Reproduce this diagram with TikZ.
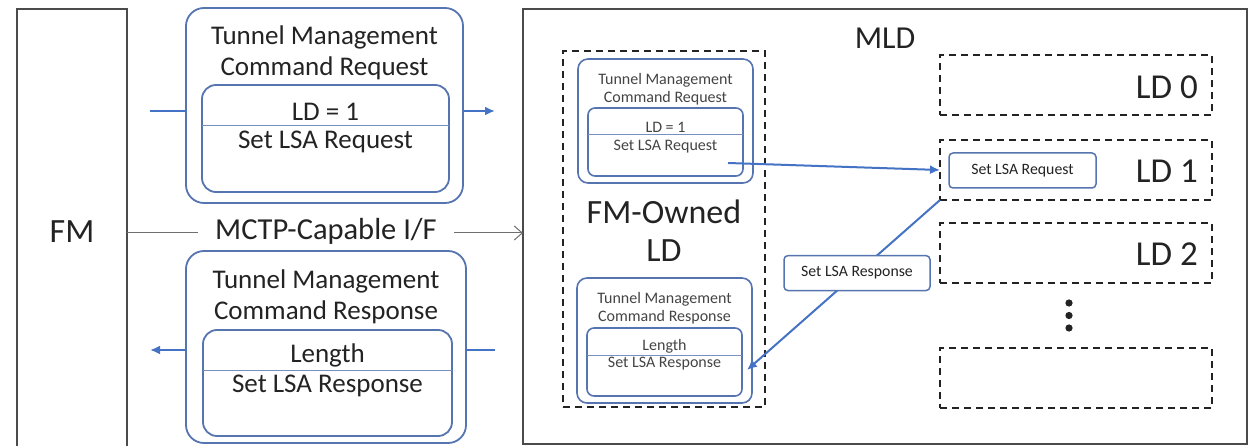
\documentclass[tikz,border=0pt]{standalone}
\usepackage{fontspec}
\setmainfont{Carlito}
\usetikzlibrary{arrows.meta,positioning,calc}
\definecolor{boxblue}{RGB}{86,116,176}
\definecolor{flowblue}{RGB}{68,114,196}
\definecolor{ink}{RGB}{35,35,35}
\definecolor{frameink}{RGB}{75,75,75}

\tikzset{
  frame/.style={draw=frameink, line width=1.6pt, inner sep=0pt, outer sep=0pt},
  outerbig/.style={draw=boxblue, line width=1.8pt, rounded corners=18pt, inner sep=0pt, outer sep=0pt},
  innerbig/.style={draw=boxblue, line width=1.8pt, rounded corners=14pt, inner sep=0pt, outer sep=0pt},
  outersmall/.style={draw=boxblue, line width=1.6pt, rounded corners=10pt, inner sep=0pt, outer sep=0pt},
  innersmall/.style={draw=boxblue, line width=1.6pt, rounded corners=7pt, inner sep=0pt, outer sep=0pt},
  ldbox/.style={draw=ink, line width=2pt, dash pattern=on 7pt off 5pt, inner sep=0pt, outer sep=0pt},
  divider/.style={draw=boxblue!80, line width=1pt},
  tag/.style={draw=boxblue, line width=1.5pt, rounded corners=4pt, fill=white, inner sep=0pt,
    font=\fontsize{15.8}{18}\selectfont, text=ink},
  boxtxt/.style={font=\fontsize{27}{31}\selectfont, text=ink, align=center, inner sep=0pt},
  smalltxt/.style={font=\fontsize{16}{18}\selectfont, text=ink!85, align=center, inner sep=0pt},
  hugetxt/.style={font=\fontsize{34}{38}\selectfont, text=ink, align=center},
  flowline/.style={draw=flowblue, line width=2pt},
  flowarrow/.style={flowline, -{Latex[length=10pt,width=9pt]}},
  iface/.style={draw=frameink!80, line width=1pt}
}

\begin{document}
\begin{tikzpicture}[x=1pt,y=-1pt]
\useasboundingbox (0,0) rectangle (1253,446);
% fabric manager and the device
\node[frame, hugetxt, minimum width=110pt, minimum height=445pt] (fm) at (72,231.5) {FM};
\node[frame, minimum width=724pt, minimum height=435pt] (mld) at (885,226.5) {};
\node[hugetxt, font=\fontsize{32}{34}\selectfont] (mldlabel) at (885,38) {MLD};

% request going out
\node[outerbig, minimum width=277pt, minimum height=195pt] (reqbox) at (324.5,105.5) {};
\node[innerbig, minimum width=247pt, minimum height=107pt] (reqinner) at (325.5,138.5) {};
\draw[divider] (reqinner.west |- 0,126) -- (reqinner.east |- 0,126);
\node[boxtxt] (reqhead) at (324.5,53) {Tunnel Management\\Command Request};
\node[boxtxt] (reqld) at (325.5,112) {LD = 1};
\node[boxtxt] (reqset) at (325.5,142) {Set LSA Request};
\coordinate (reqin) at (150,111);
\coordinate (reqout) at (495,111);
\draw[flowline] (reqin) -- (reqin -| reqbox.west);
\draw[flowarrow] (reqbox.east |- reqout) -- (reqout);

% the interface
\node[boxtxt, font=\fontsize{30.5}{34}\selectfont, inner xsep=17pt] (mctp) at (326,231) {MCTP-Capable I/F};
\draw[iface] (fm.east |- 0,233) -- (mctp.west |- 0,233);
\draw[iface, -{Straight Barb[length=8pt,width=14pt]}] (mctp.east |- 0,233) -- (mld.west |- 0,233);

% response coming back
\node[outerbig, minimum width=280pt, minimum height=192pt] (rspbox) at (326,347) {};
\node[innerbig, minimum width=249pt, minimum height=106pt] (rspinner) at (327.5,383) {};
\draw[divider] (rspinner.west |- 0,370) -- (rspinner.east |- 0,370);
\node[boxtxt] (rsphead) at (326,297) {Tunnel Management\\Command Response};
\node[boxtxt] (rsplen) at (327.5,355) {Length};
\node[boxtxt] (rspset) at (327.5,386) {Set LSA Response};
\coordinate (rspout) at (150,350);
\coordinate (rspin) at (495,350);
\draw[flowarrow] (rspbox.west |- rspout) -- (rspout);
\draw[flowline] (rspin) -- (rspin -| rspbox.east);

% FM-owned LD
\node[ldbox, minimum width=202pt, minimum height=356pt] (fmld) at (664,229) {};
\node[hugetxt] (fmldlabel) at (664,231) {FM-Owned\\LD};
\node[outersmall, minimum width=175pt, minimum height=124pt] (sreqbox) at (665.5,121) {};
\node[innersmall, minimum width=155pt, minimum height=68pt] (sreqinner) at (665.5,142) {};
\draw[divider] (sreqinner.west |- 0,135) -- (sreqinner.east |- 0,135);
\node[smalltxt] (sreqhead) at (665.5,89) {Tunnel Management\\Command Request};
\node[smalltxt] (sreqld) at (665.5,127) {LD = 1};
\node[smalltxt] (sreqset) at (665.5,147) {Set LSA Request};
\node[outersmall, minimum width=175pt, minimum height=125pt] (srspbox) at (664.5,340.5) {};
\node[innersmall, minimum width=155pt, minimum height=68pt] (srspinner) at (664.5,362) {};
\draw[divider] (srspinner.west |- 0,355) -- (srspinner.east |- 0,355);
\node[smalltxt] (srsphead) at (664.5,308) {Tunnel Management\\Command Response};
\node[smalltxt] (srsplen) at (664.5,346) {Length};
\node[smalltxt] (srspset) at (664.5,364) {Set LSA Response};

% logical devices
\foreach \y/\name in {85.5/ld0, 170/ld1, 253/ld2, 377.5/ldn}
  \node[ldbox, minimum width=272pt, minimum height=60pt] (\name) at (1076,\y) {};
\foreach \name/\txt in {ld0/LD 0, ld1/LD 1, ld2/LD 2}
  \node[hugetxt, font=\fontsize{35}{38}\selectfont, anchor=east, inner sep=0pt] (\name-label) at ($(\name.east)+(-14,1.5)$) {\txt};
\node[tag, minimum width=147pt, minimum height=35pt] (ld1req) at (1022.5,170.5) {Set LSA Request};
\foreach \d in {303,315.5,328}
  \fill[ink] (1069,\d) circle (3.6pt);

% tunnelled messages
\coordinate (sreqsrc) at (728,163);
\coordinate (srspdst) at (747,370);
\draw[flowarrow] (sreqsrc) -- (ld1.west);
\draw[flowarrow] (ld1.south west) -- node[tag, pos=0.43, minimum width=146pt, minimum height=35pt] (rsptag) {Set LSA Response} (srspdst);
\end{tikzpicture}
\end{document}
